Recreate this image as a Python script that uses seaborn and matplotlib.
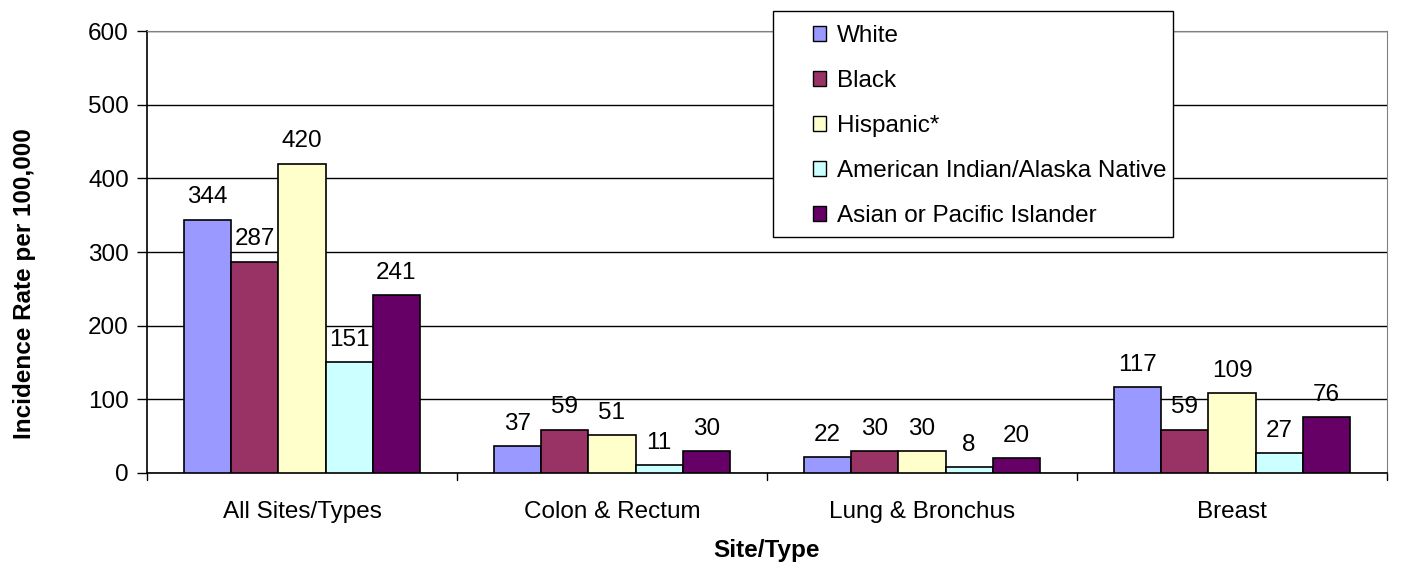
import pandas as pd
import matplotlib
matplotlib.use('Agg')
import matplotlib.pyplot as plt
import seaborn as sns

sites = ['All Sites/Types', 'Colon & Rectum', 'Lung & Bronchus', 'Breast']
groups = ['White', 'Black', 'Hispanic*', 'American Indian/Alaska Native', 'Asian or Pacific Islander']
white = [344, 37, 22, 117]
black = [287, 59, 30, 59]
hispanic = [420, 51, 30, 109]
aian = [151, 11, 8, 27]
api = [241, 30, 20, 76]
colors = ['#9999FF', '#993366', '#FFFFCC', '#CCFFFF', '#660066']

rows = []
for g, vals in zip(groups, [white, black, hispanic, aian, api]):
    for s, v in zip(sites, vals):
        rows.append({'Site/Type': s, 'Group': g, 'Rate': v})
df = pd.DataFrame(rows)

sns.set_style('white')
plt.rcParams['font.family'] = ['Liberation Sans', 'DejaVu Sans']
plt.rcParams['text.color'] = 'black'
plt.rcParams['axes.labelcolor'] = 'black'
plt.rcParams['xtick.color'] = 'black'
plt.rcParams['ytick.color'] = 'black'

FS = 17.5

fig = plt.figure(figsize=(14.01, 5.67), dpi=100)
ax = fig.add_axes([0.1049, 0.1658, 0.8851, 0.7795])

sns.barplot(data=df, x='Site/Type', y='Rate', hue='Group', order=sites, hue_order=groups,
            palette=colors, saturation=1, width=0.76, edgecolor='black', linewidth=1.2,
            errorbar=None, legend=False, ax=ax, zorder=3)

for c in ax.containers:
    ax.bar_label(c, fmt='%d', padding=8, fontsize=FS)

ax.set_ylim(0, 600)
ax.set_xlim(-0.5, 3.5)
ax.set_yticks(range(0, 601, 100))
ax.tick_params(axis='y', labelsize=FS, length=7, direction='out', width=1, left=True, pad=6)
ax.tick_params(axis='x', labelsize=FS, length=0, pad=20)
ax.yaxis.grid(True, color='black', linewidth=1)
ax.set_axisbelow(True)

# category boundary ticks like Excel
for b in [-0.5, 0.5, 1.5, 2.5, 3.5]:
    ax.plot([b, b], [0, -10], color='black', lw=1, clip_on=False)

for side in ['top', 'right']:
    ax.spines[side].set_color('#808080')
for side in ['left', 'bottom']:
    ax.spines[side].set_color('black')
    ax.spines[side].set_linewidth(1.2)

ax.set_ylabel('Incidence Rate per 100,000', fontsize=FS, fontweight='bold')
ax.set_xlabel('Site/Type', fontsize=FS, fontweight='bold')
ax.yaxis.set_label_coords(25 / 1401, 0.5, transform=fig.transFigure)
ax.xaxis.set_label_coords(0.5 * (147 + 1387) / 1401, 1 - 551 / 567, transform=fig.transFigure)
ax.yaxis.label.set_va('center')
ax.xaxis.label.set_va('center')

# legend box like the original (frame drawn separately)
frame = plt.Rectangle((773 / 1401, 1 - 237 / 567), 400 / 1401, 226 / 567,
                      transform=fig.transFigure, facecolor='white', edgecolor='black',
                      lw=1, zorder=9)
fig.patches.append(frame)
handles = [plt.Rectangle((0, 0), 1, 1, facecolor=c, edgecolor='black', lw=1) for c in colors]
leg = fig.legend(handles, groups, loc='upper left', bbox_to_anchor=(813 / 1401, 1 - 25 / 567),
                 fontsize=FS, frameon=False, handlelength=0.55, handleheight=0.55,
                 handletextpad=0.45, labelspacing=0.95, borderpad=0, borderaxespad=0)
leg.set_zorder(10)

fig.savefig('out.png', dpi=100)
